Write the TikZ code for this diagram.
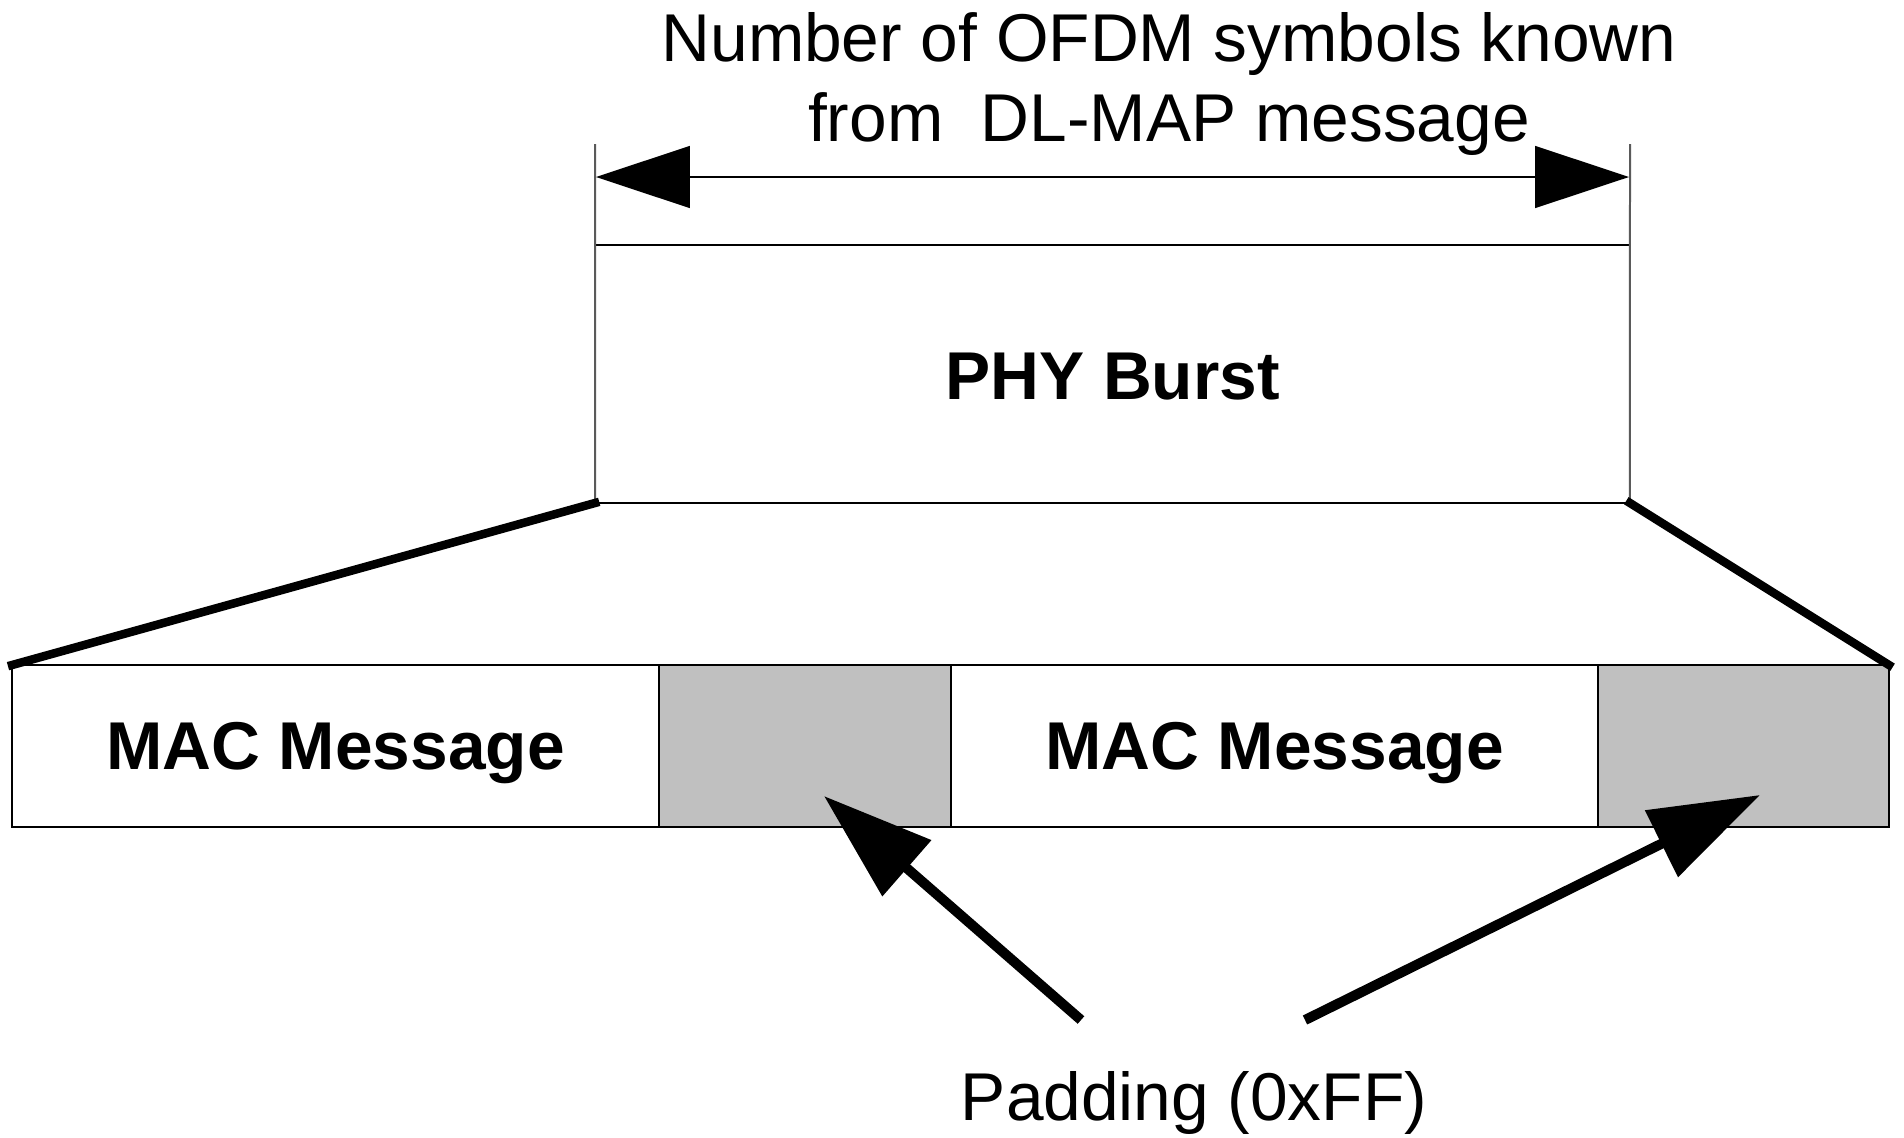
\documentclass[tikz,border=0pt]{standalone}
\usepackage{fontspec}
\setmainfont{Liberation Sans}
\usetikzlibrary{arrows.meta}
\definecolor{padgray}{RGB}{192,192,192}
\definecolor{extgray}{RGB}{90,90,90}

\begin{document}
\begin{tikzpicture}[x=0.02cm, y=-0.02cm,
    cell/.style={draw, line width=0.03cm, inner sep=0pt, outer sep=0pt,
        minimum height=3.24cm, text height=1.23cm, text depth=0.28cm,
        font=\fontsize{38.5}{45}\selectfont\bfseries},
    padcell/.style={cell, fill=padgray, minimum width=5.84cm},
    maccell/.style={cell, minimum width=12.94cm},
    bigtip/.style={-{Triangle[length=2.2cm, width=1.44cm]}, line width=0.2cm},
    thickside/.style={line width=0.17cm, line cap=rect}]
    \useasboundingbox (0,0) rectangle (1904,1137);

    % ==================== PHY BURST ====================
    \node[cell, minimum width=20.7cm, minimum height=5.16cm,
        text height=1.02cm, text depth=0cm] (phy) at (1112.5,374) {PHY Burst};

    % Đường gióng hai bên
    \draw[extgray, line width=0.04cm] (595,144) coordinate (extL) -- (phy.south west);
    \draw[extgray, line width=0.04cm] (1630,144) coordinate (extR) -- (phy.south east);

    % Mũi tên đo độ dài burst
    \coordinate (dimL) at (596,177);
    \coordinate (dimR) at (1629,177);
    \draw[{Triangle[length=1.88cm, width=1.24cm]}-{Triangle[length=1.88cm, width=1.24cm]}, line width=0.03cm] (dimL) -- (dimR);
    \node[font=\fontsize{38.5}{45}\selectfont, align=center] (title) at (1169,84)
        {Number of OFDM symbols known\\from\ \ DL-MAP message};

    % ==================== HÀNG MAC ====================
    \node[maccell] (mac1) at (335.5,746) {MAC Message};
    \node[padcell] (pad1) at (805,746) {};
    \node[maccell] (mac2) at (1274.5,746) {MAC Message};
    \node[padcell, minimum width=5.82cm] (pad2) at (1743.5,746) {};

    % Nét đậm nối burst với hàng MAC
    \draw[thickside] (phy.south west) -- (mac1.north west);
    \draw[thickside] (phy.south east) -- (pad2.north east);

    % ==================== PADDING ====================
    \node[font=\fontsize{38.5}{45}\selectfont] (padding) at (1194,1103) {Padding (0xFF)};
    \coordinate (tailA) at (1081,1020);
    \coordinate (tailB) at (1305,1020);
    \coordinate (tipA) at (824,796);
    \coordinate (tipB) at (1760,795);
    \draw[bigtip] (tailA) -- (tipA);
    \draw[bigtip] (tailB) -- (tipB);
\end{tikzpicture}
\end{document}
